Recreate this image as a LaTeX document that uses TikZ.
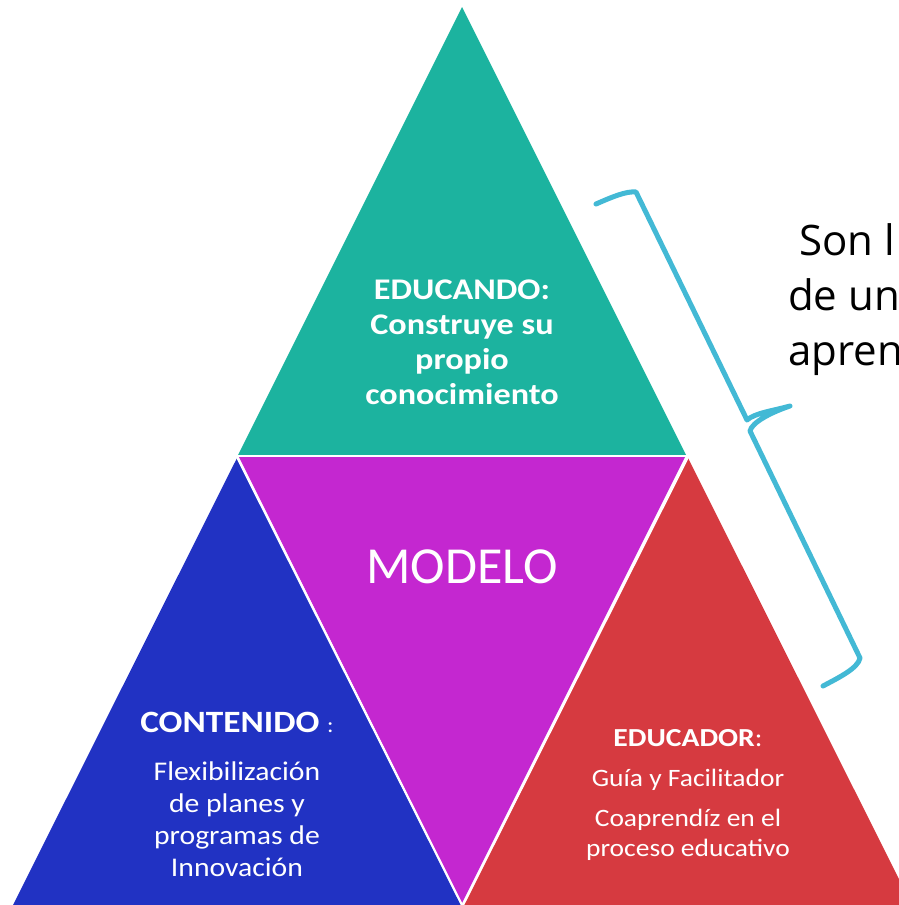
\documentclass[tikz,border=0pt]{standalone}
\usepackage{fontspec}
\setmainfont{Carlito}[FakeStretch=1.1, BoldFeatures={FakeStretch=1.14}]
\newfontfamily\plainfont{Carlito}
\newfontfamily\sidefont{Open Sans}
\definecolor{teal1}{HTML}{1CB39F}
\definecolor{mag1}{HTML}{C427D0}
\definecolor{blue1}{HTML}{2132C3}
\definecolor{red1}{HTML}{D63A40}
\definecolor{cyan1}{HTML}{43B9D5}
\tikzset{
  wtext/.style={text=white, align=center, inner sep=0pt},
  brace/.style={draw=cyan1, line width=5pt, line cap=round, line join=round},
  gap/.style={white, line width=2.2pt},
}
\begin{document}
\begin{tikzpicture}[x=1pt,y=-1pt]
\useasboundingbox (0,0) rectangle (899,905);
\clip (0,0) rectangle (899,905);
% triangles
\fill[teal1] (462,7) -- (686,455) -- (238,455) -- cycle;
\fill[mag1] (239,457) -- (685,457) -- (462,903) -- cycle;
\fill[blue1] (237,458) -- (461,905) -- (13,905) -- cycle;
\fill[red1] (688,458) -- (912,905) -- (464,905) -- cycle;
\draw[gap] (225,456) -- (700,456);
\draw[gap] (237,457) -- (462,905);
\draw[gap] (688,457) -- (463,905);
% brace
\draw[brace] (596,204) .. controls (612,197) and (626,191) .. (636,192)
  -- (747,420) .. controls (755,413) and (772,411) .. (790,406)
  .. controls (772,412) and (752,422) .. (750,431)
  -- (860,658) .. controls (858,668) and (840,677) .. (823,686);
% texts
\node[wtext, font=\bfseries\fontsize{30}{35}\selectfont] (educando) at (462,342)
  {EDUCANDO:\\Construye su\\propio\\conocimiento};
\node[wtext, font=\plainfont\fontsize{52}{60}\selectfont] (modelo) at (462,567) {MODELO};
\node[wtext, font=\fontsize{31}{32}\selectfont] (conthead) at (237,722)
  {\textbf{CONTENIDO} {\fontsize{22}{26}\selectfont:}};
\node[wtext, font=\fontsize{27}{32}\selectfont] (contbody) at (237,819)
  {Flexibilización\\de planes y\\programas de\\Innovación};
\node[wtext, font=\fontsize{26}{30}\selectfont] (eduhead) at (688,738)
  {\textbf{EDUCADOR}:};
\node[wtext, font=\fontsize{25}{30}\selectfont] (guia) at (688,780)
  {Guía y Facilitador};
\node[wtext, font=\fontsize{25}{30}\selectfont] (coap) at (688,835)
  {Coaprendíz en el\\proceso educativo};
\node[anchor=west, align=left, inner sep=0pt, font=\sidefont\fontsize{42}{55}\selectfont] (side) at (788,300)
  {\ Son l\\de un\\apren};
\end{tikzpicture}
\end{document}
